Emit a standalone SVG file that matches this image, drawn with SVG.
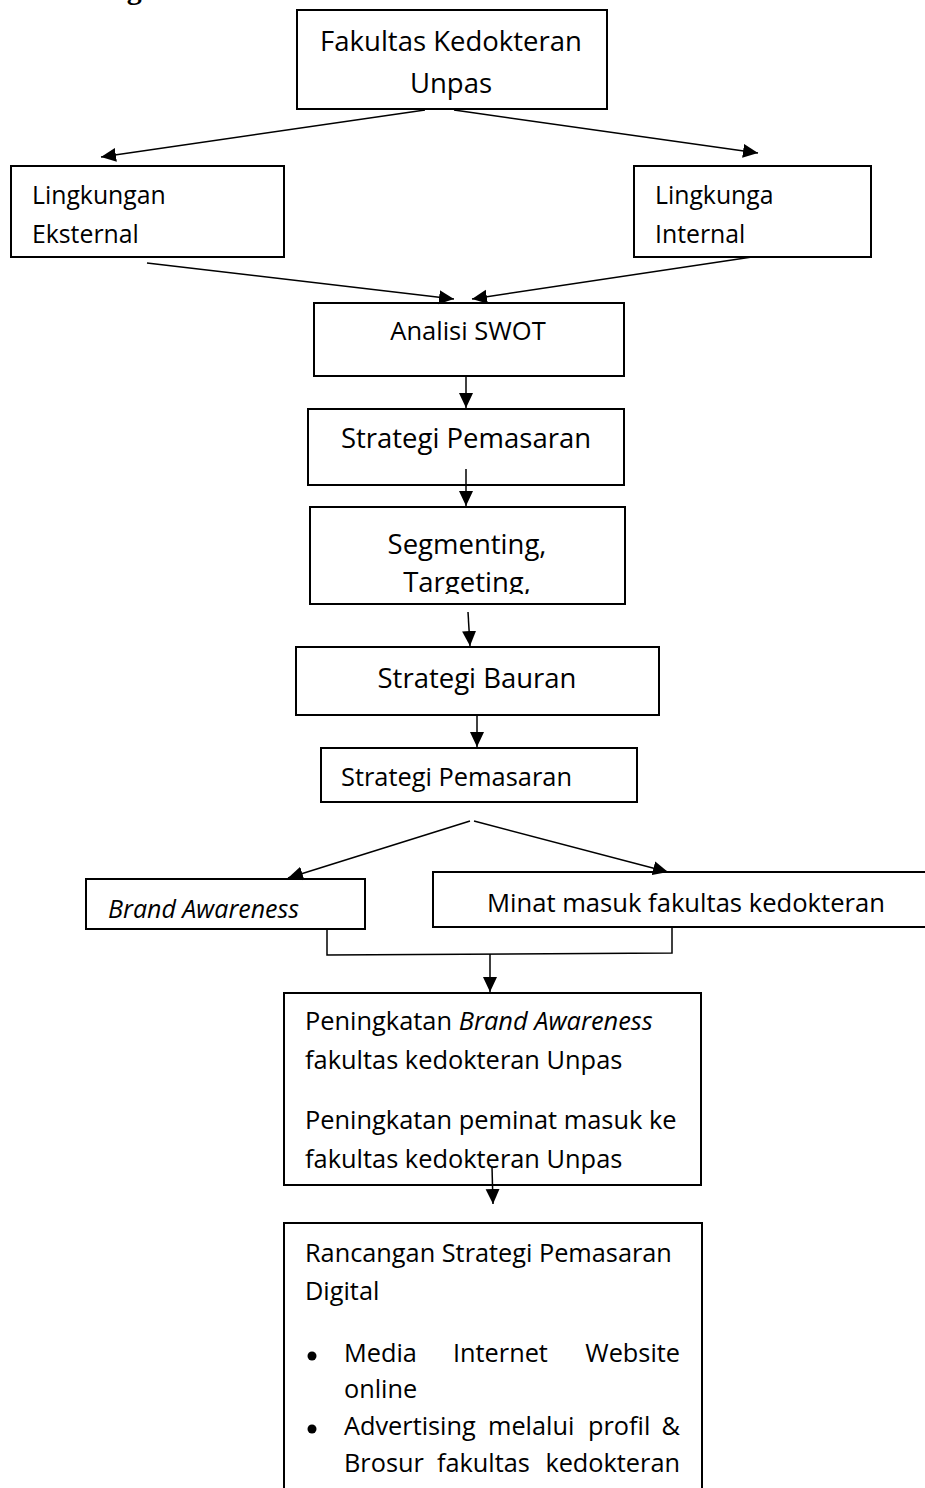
<svg xmlns="http://www.w3.org/2000/svg" width="925" height="1488" viewBox="0 0 925 1488">
<style>
.box{fill:#fff;stroke:#000;stroke-width:2}
.t{font-family:"Open Sans","Liberation Sans",sans-serif;fill:#000}
.c{stroke:#000;stroke-width:1.5;fill:none}
.a{stroke:#000;stroke-width:1.5;fill:none;marker-end:url(#ah)}
</style>
<defs>
<marker id="ah" markerUnits="userSpaceOnUse" markerWidth="16" markerHeight="15" refX="15" refY="7" orient="auto">
<path d="M0,0 L15,7 L0,14 z" fill="#000"/>
</marker>
<clipPath id="segclip"><rect x="310" y="507" width="316" height="87"/></clipPath>
</defs>
<rect width="925" height="1488" fill="#fff"/>
<text x="110" y="-1" font-family="Liberation Serif,serif" font-weight="bold" font-size="30">ng</text>

<g id="n-fakultas">
<rect class="box" x="297" y="10" width="310" height="99"/>
<text class="t" x="451" y="51" font-size="27.5" text-anchor="middle">Fakultas Kedokteran</text>
<text class="t" x="451" y="93" font-size="27.5" text-anchor="middle">Unpas</text>
</g>
<g id="n-eksternal">
<rect class="box" x="11" y="166" width="273" height="91"/>
<text class="t" x="32" y="204" font-size="24.8">Lingkungan</text>
<text class="t" x="32" y="243" font-size="24.8">Eksternal</text>
</g>
<g id="n-internal">
<rect class="box" x="634" y="166" width="237" height="91"/>
<text class="t" x="655" y="204" font-size="24.8">Lingkunga</text>
<text class="t" x="655" y="243" font-size="24.8">Internal</text>
</g>
<g id="n-swot">
<rect class="box" x="314" y="303" width="310" height="73"/>
<text class="t" x="468" y="340" font-size="25.5" text-anchor="middle">Analisi SWOT</text>
</g>
<g id="n-strategi1">
<rect class="box" x="308" y="409" width="316" height="76"/>
<text class="t" x="466" y="448" font-size="27.5" text-anchor="middle">Strategi Pemasaran</text>
</g>
<g id="n-stp">
<rect class="box" x="310" y="507" width="315" height="97"/>
<g clip-path="url(#segclip)">
<text class="t" x="467" y="554" font-size="27.5" text-anchor="middle">Segmenting,</text>
<text class="t" x="467" y="592" font-size="27.5" text-anchor="middle">Targeting,</text>
</g>
</g>
<g id="n-bauran">
<rect class="box" x="296" y="647" width="363" height="68"/>
<text class="t" x="477" y="688" font-size="27.5" text-anchor="middle">Strategi Bauran</text>
</g>
<g id="n-strategi2">
<rect class="box" x="321" y="748" width="316" height="54"/>
<text class="t" x="341" y="786" font-size="25.4">Strategi Pemasaran</text>
</g>
<g id="n-brand">
<rect class="box" x="86" y="879" width="279" height="50"/>
<text class="t" x="108" y="918" font-size="25" font-style="italic">Brand Awareness</text>
</g>
<g id="n-minat">
<rect class="box" x="433" y="872" width="500" height="55"/>
<text class="t" x="487" y="912" font-size="25.6">Minat masuk fakultas kedokteran</text>
</g>
<g id="n-peningkatan">
<rect class="box" x="284" y="993" width="417" height="192"/>
<text class="t" x="305" y="1030" font-size="25.4">Peningkatan <tspan font-style="italic">Brand Awareness</tspan></text>
<text class="t" x="305" y="1069" font-size="25.4">fakultas kedokteran Unpas</text>
<text class="t" x="305" y="1129" font-size="25.4">Peningkatan peminat masuk ke</text>
<text class="t" x="305" y="1168" font-size="25.4">fakultas kedokteran Unpas</text>
</g>
<g id="n-rancangan">
<rect class="box" x="284" y="1223" width="418" height="290"/>
<text class="t" x="305" y="1262" font-size="25.3">Rancangan Strategi Pemasaran</text>
<text class="t" x="305" y="1300" font-size="25.3">Digital</text>
<circle cx="312" cy="1356" r="4.5" fill="#000"/>
<text class="t" x="344" y="1362" font-size="25.3">Media</text>
<text class="t" x="453" y="1362" font-size="25.3">Internet</text>
<text class="t" x="680" y="1362" font-size="25.3" text-anchor="end">Website</text>
<text class="t" x="344" y="1398" font-size="25.3">online</text>
<circle cx="312" cy="1429" r="4.5" fill="#000"/>
<text class="t" x="344" y="1435" font-size="25.3">Advertising</text>
<text class="t" x="488" y="1435" font-size="25.3">melalui</text>
<text class="t" x="588" y="1435" font-size="25.3">profil</text>
<text class="t" x="680" y="1435" font-size="25.3" text-anchor="end">&amp;</text>
<text class="t" x="344" y="1472" font-size="25.3">Brosur</text>
<text class="t" x="437" y="1472" font-size="25.3">fakultas</text>
<text class="t" x="680" y="1472" font-size="25.3" text-anchor="end">kedokteran</text>
</g>

<g id="connectors">
<line class="a" x1="425" y1="110" x2="101" y2="157"/>
<line class="a" x1="454" y1="110" x2="758" y2="153"/>
<line class="a" x1="147" y1="263" x2="454" y2="299"/>
<line class="a" x1="752" y1="257" x2="472" y2="299"/>
<line class="a" x1="466" y1="376" x2="466" y2="408"/>
<line class="a" x1="466" y1="469" x2="466" y2="506"/>
<line class="a" x1="468" y1="612" x2="470" y2="646"/>
<line class="a" x1="477" y1="715" x2="477" y2="747"/>
<line class="a" x1="470" y1="821" x2="288" y2="878"/>
<line class="a" x1="474" y1="821" x2="668" y2="872"/>
<polyline class="c" points="327,929 327,955 672,953 672,927"/>
<line class="a" x1="490" y1="954" x2="490" y2="992"/>
<line class="a" x1="492" y1="1167" x2="493" y2="1204"/>
</g>
</svg>
